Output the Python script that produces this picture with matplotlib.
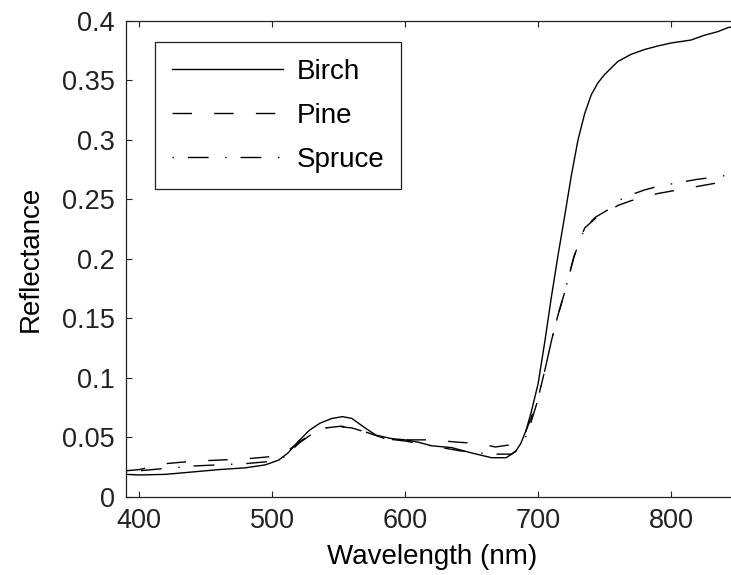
import numpy as np
import matplotlib.pyplot as plt

plt.rcParams['font.family'] = ['Liberation Sans', 'DejaVu Sans']

# reflectance spectra, sampled by eye (wavelength in nm)
wl_birch = [390, 400, 420, 440, 460, 480, 495, 505, 512, 520, 528, 536, 545, 553, 560, 570,
            578, 590, 600, 610, 620, 635, 650, 665, 676, 683, 687, 691, 695, 700, 705, 710,
            715, 720, 725, 730, 735, 740, 745, 750, 760, 770, 780, 790, 800, 815, 825, 835, 843, 850]
birch = [0.019, 0.0185, 0.019, 0.021, 0.023, 0.0245, 0.027, 0.031, 0.037, 0.047, 0.056, 0.062, 0.066, 0.0675, 0.066, 0.058,
         0.052, 0.049, 0.048, 0.046, 0.043, 0.0415, 0.037, 0.033, 0.033, 0.038, 0.045, 0.056, 0.072, 0.095, 0.13, 0.168,
         0.203, 0.236, 0.27, 0.30, 0.322, 0.338, 0.348, 0.355, 0.366, 0.372, 0.376, 0.379, 0.3815, 0.384, 0.388, 0.391, 0.3945, 0.396]

wl_conifer = [390, 400, 420, 440, 460, 480, 500, 510, 520, 530, 540, 552, 560, 572, 585, 600,
              620, 640, 655, 668, 680, 686, 690, 695, 700, 705, 710, 715, 720, 727, 735, 743,
              752, 760, 770, 780, 790, 800, 810, 820, 835, 850]
pine = [0.022, 0.023, 0.028, 0.030, 0.031, 0.032, 0.034, 0.037, 0.046, 0.053, 0.058, 0.0595, 0.058, 0.054, 0.049, 0.048,
        0.048, 0.046, 0.045, 0.042, 0.044, 0.048, 0.053, 0.067, 0.083, 0.106, 0.131, 0.153, 0.172, 0.202, 0.226, 0.234,
        0.239, 0.245, 0.249, 0.252, 0.255, 0.257, 0.259, 0.261, 0.264, 0.267]
spruce = [0.021, 0.022, 0.024, 0.026, 0.027, 0.028, 0.030, 0.034, 0.045, 0.053, 0.058, 0.059, 0.058, 0.054, 0.049, 0.047,
          0.043, 0.039, 0.037, 0.036, 0.036, 0.041, 0.048, 0.064, 0.082, 0.106, 0.131, 0.153, 0.172, 0.202, 0.226, 0.235,
          0.241, 0.249, 0.254, 0.258, 0.261, 0.263, 0.265, 0.267, 0.269, 0.272]

xticks = [400, 500, 600, 700, 800]
yticks = [0, 0.05, 0.1, 0.15, 0.2, 0.25, 0.3, 0.35, 0.4]
yticklabels = ['0', '0.05', '0.1', '0.15', '0.2', '0.25', '0.3', '0.35', '0.4']

fig = plt.figure(figsize=(7.31, 5.75), dpi=100)
ax = fig.add_axes([0.172, 0.1357, 0.837, 0.8278])

ax.plot(wl_birch, birch, color='black', lw=1.0, label='Birch')
ax.plot(wl_conifer, pine, color='black', lw=1.0, dashes=(14, 16), label='Pine')
ax.plot(wl_conifer, spruce, color='black', lw=1.0, dashes=(1, 10, 15, 12), label='Spruce')

ax.set_xlim(390, 850)
ax.set_ylim(0, 0.4)
ax.set_xticks(xticks)
ax.set_yticks(yticks)
ax.set_yticklabels(yticklabels)
ax.tick_params(direction='in', length=4, width=0.8, top=True, right=True,
               labelsize=19.5, colors='#222222')
ax.tick_params(axis='x', pad=8)
ax.tick_params(axis='y', pad=8)
for s in ax.spines.values():
    s.set_linewidth(0.9)
    s.set_color('#222222')

ax.set_xlabel('Wavelength (nm)', fontsize=20, labelpad=7)
ax.set_ylabel('Reflectance', fontsize=20, labelpad=13)

leg = ax.legend(loc='upper left', bbox_to_anchor=(0.048, 0.956), fontsize=20,
                handlelength=4.0, handletextpad=0.5, borderpad=0.6, labelspacing=0.65,
                fancybox=False, framealpha=1, edgecolor='#222222', borderaxespad=0)
leg.get_frame().set_linewidth(0.9)

fig.savefig('out.png', dpi=100)
